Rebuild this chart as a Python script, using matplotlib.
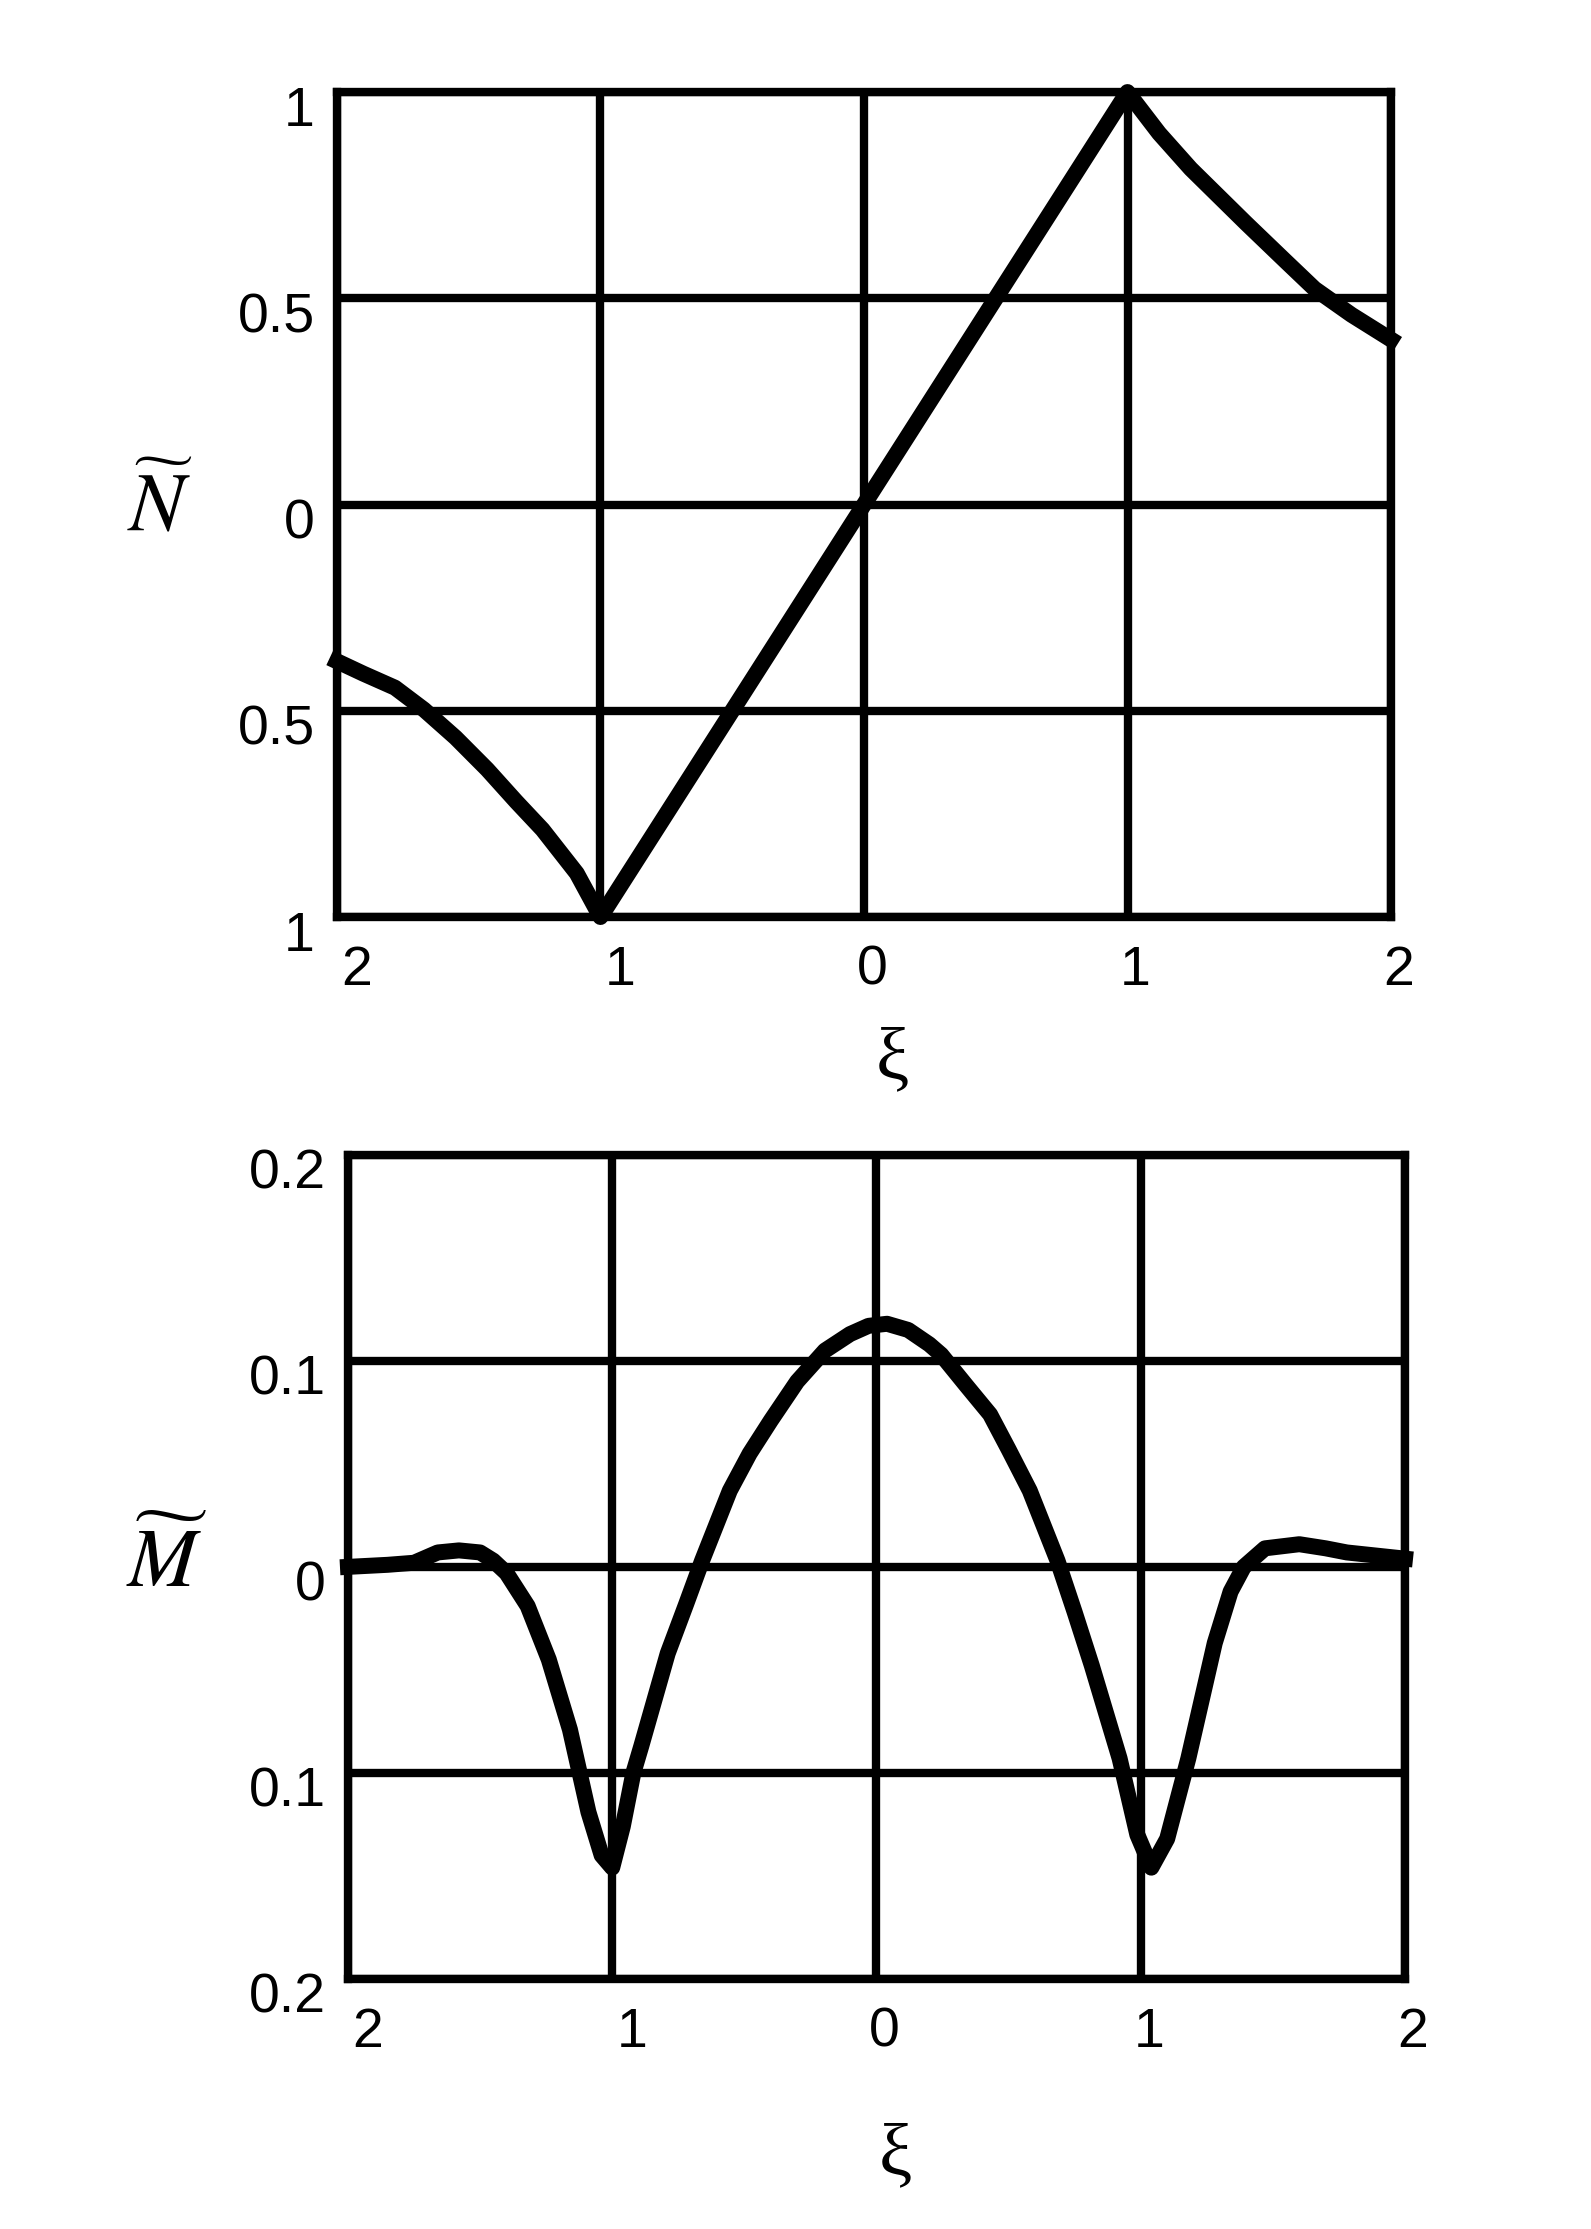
import matplotlib
matplotlib.use('Agg')
from matplotlib import pyplot as plt
from matplotlib import transforms

# Top panel: N~(xi)
n_xi = [-2.00, -1.90, -1.78, -1.67, -1.55, -1.43, -1.32, -1.22, -1.09, -1.00,
        -0.50, 0.00, 0.50, 1.00, 1.12, 1.24, 1.45, 1.60, 1.71, 1.85, 2.00]
n_val = [-0.38, -0.41, -0.444, -0.497, -0.565, -0.642, -0.72, -0.788, -0.894, -1.0,
         -0.50, 0.00, 0.50, 1.00, 0.90, 0.814, 0.682, 0.59, 0.523, 0.46, 0.40]

# Bottom panel: M~(xi)
m_xi = [-2.00, -1.85, -1.75, -1.66, -1.58, -1.50, -1.45, -1.40, -1.32, -1.24,
        -1.16, -1.09, -1.04, -1.00, -0.96, -0.92, -0.89, -0.79, -0.72, -0.66,
        -0.555, -0.48, -0.40, -0.30, -0.195, -0.10, -0.03, 0.04, 0.12, 0.20,
        0.245, 0.34, 0.43, 0.50, 0.58, 0.685, 0.75, 0.815, 0.92, 0.987,
        1.04, 1.10, 1.18, 1.28, 1.34, 1.39, 1.47, 1.60, 1.70, 1.78, 2.00]
m_val = [0.000, 0.001, 0.002, 0.007, 0.008, 0.007, 0.003, -0.003, -0.019, -0.045,
         -0.079, -0.119, -0.140, -0.146, -0.126, -0.100, -0.087, -0.042, -0.018, 0.003,
         0.037, 0.055, 0.071, 0.090, 0.105, 0.113, 0.117, 0.118, 0.115, 0.108,
         0.103, 0.088, 0.074, 0.057, 0.037, 0.003, -0.022, -0.048, -0.093, -0.130,
         -0.146, -0.132, -0.093, -0.037, -0.012, 0.000, 0.009, 0.011, 0.009, 0.007, 0.004]

x_ticks = [-2, -1, 0, 1, 2]
x_labels = ['2', '1', '0', '1', '2']
n_ticks = [-1, -0.5, 0, 0.5, 1]
n_labels = ['1', '0.5', '0', '0.5', '1']
m_ticks = [-0.2, -0.1, 0, 0.1, 0.2]
m_labels = ['0.2', '0.1', '0', '0.1', '0.2']


def style_axes(fig, ax, yticks, ylabels):
  ax.set_xlim(-2, 2)
  ax.set_ylim(yticks[0], yticks[-1])
  ax.set_xticks(x_ticks)
  ax.set_xticklabels(x_labels)
  ax.set_yticks(yticks)
  ax.set_yticklabels(ylabels)
  ax.tick_params(length=0, labelsize=40, pad=16)
  ax.tick_params(axis='x', pad=20)
  ax.grid(color='black', linewidth=6)
  for s in ax.spines.values():
    s.set_linewidth(6)
  for lab in ax.get_yticklabels():
    lab.set_fontfamily('Liberation Sans')
    lab.set_transform(lab.get_transform() + transforms.ScaledTranslation(0, -0.14, fig.dpi_scale_trans))
  for val, lab in zip(x_ticks, ax.get_xticklabels()):
    lab.set_fontfamily('Liberation Sans')
    dx = 0.2 if val < 0 else 0.08
    lab.set_transform(lab.get_transform() + transforms.ScaledTranslation(dx, 0, fig.dpi_scale_trans))


def main():
  plt.rcParams['mathtext.fontset'] = 'stix'
  fig = plt.figure(figsize=(15.91, 22.29), dpi=100)

  ax_n = fig.add_axes([0.2118, 0.5886, 0.6625, 0.3701])
  ax_n.plot(n_xi, n_val, color='black', linewidth=11.5, clip_on=False, solid_joinstyle='round')
  style_axes(fig, ax_n, n_ticks, n_labels)
  ax_n.set_ylabel(r'$\widetilde{N}$', fontsize=60, rotation=0, va='center')
  ax_n.yaxis.set_label_coords(-0.168, 0.497)
  ax_n.set_xlabel('ξ', fontsize=54, fontfamily='Liberation Serif')
  ax_n.xaxis.set_label_coords(0.527, -0.133)

  ax_m = fig.add_axes([0.2187, 0.1122, 0.6644, 0.3697])
  ax_m.plot(m_xi, m_val, color='black', linewidth=11.5, clip_on=False, solid_joinstyle='round')
  style_axes(fig, ax_m, m_ticks, m_labels)
  ax_m.set_ylabel(r'$\widetilde{M}$', fontsize=60, rotation=0, va='center')
  ax_m.yaxis.set_label_coords(-0.172, 0.504)
  ax_m.set_xlabel('ξ', fontsize=54, fontfamily='Liberation Serif')
  ax_m.xaxis.set_label_coords(0.518, -0.175)

  fig.savefig('out.png', dpi=100)
  plt.close()


if __name__ == '__main__':
  main()
